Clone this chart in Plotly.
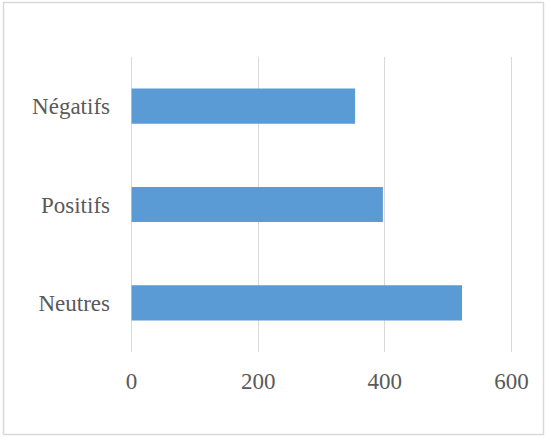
import plotly.graph_objects as go

categories = ["Neutres", "Positifs", "Négatifs"]
values = [522, 397, 353]
x_ticks = [0, 200, 400, 600]

W, H = 547, 438
ml, mr, mt, mb = 130, 34, 57, 86
pw, ph = W - ml - mr, H - mt - mb

fig = go.Figure(go.Bar(
    x=values, y=categories, orientation="h",
    marker=dict(color="#5B9BD5", line=dict(width=0)),
))

def px2paper_x(p):
    return (p - ml) / pw

def px2paper_y(p):
    return (H - mb - p) / ph

fig.add_shape(type="rect", xref="paper", yref="paper",
              x0=px2paper_x(3.5), x1=px2paper_x(543.5),
              y0=px2paper_y(434.5), y1=px2paper_y(2.5),
              line=dict(color="#d9d9d9", width=1.5), fillcolor="rgba(0,0,0,0)",
              layer="below")

fig.update_layout(
    width=W, height=H,
    margin=dict(l=ml, r=mr, t=mt, b=mb),
    paper_bgcolor="white", plot_bgcolor="white",
    bargap=0.643,
    showlegend=False,
    font=dict(family="'Liberation Serif', 'Times New Roman', Times, serif", size=23, color="#595959"),
    xaxis=dict(range=[-2.5, 602.5], tickvals=x_ticks, showgrid=True,
               gridcolor="#d9d9d9", gridwidth=1.3, zeroline=True,
               zerolinecolor="#d9d9d9", zerolinewidth=1.3,
               showline=False, ticks="", ticklabelstandoff=13,
               fixedrange=True, layer="below traces"),
    yaxis=dict(showgrid=False, zeroline=False, showline=False, ticks="",
               ticklabelstandoff=19, fixedrange=True),
)

fig.write_html("out.html")
